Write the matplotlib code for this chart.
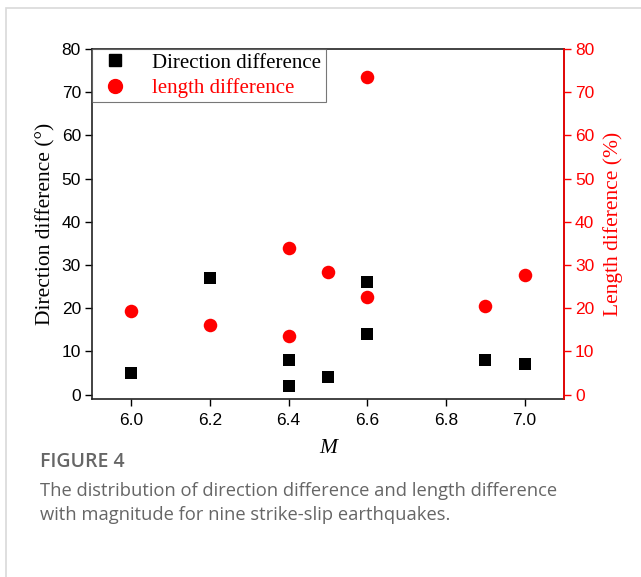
import matplotlib
matplotlib.use('Agg')
import matplotlib.pyplot as plt
from matplotlib.lines import Line2D
from matplotlib.patches import Rectangle

# Daten
magnitude = [6.0, 6.2, 6.4, 6.4, 6.5, 6.6, 6.6, 6.9, 7.0]
richtung_diff = [5, 27, 8, 2, 4, 26, 14, 8, 7]
laengen_mag = [6.0, 6.2, 6.4, 6.4, 6.5, 6.6, 6.6, 6.9, 7.0]
laengen_diff = [19.4, 16.2, 34.0, 13.5, 28.3, 73.5, 22.7, 20.6, 27.6]
x_ticks = [6.0, 6.2, 6.4, 6.6, 6.8, 7.0]
y_ticks = [0, 10, 20, 30, 40, 50, 60, 70, 80]

serif = ['Liberation Serif', 'DejaVu Serif']
sans = ['Liberation Sans', 'DejaVu Sans']
red = '#ff0000'

fig = plt.figure(figsize=(6.41, 5.77), dpi=100)

# Rahmen um die Abbildung
fig.patches.append(Rectangle((6 / 641, -0.1), 1.2, 1 - 8 / 577 + 0.1,
                             transform=fig.transFigure, fill=False,
                             edgecolor='#d9d9d9', linewidth=1.2))

ax = fig.add_axes([92 / 641, 1 - 399 / 577, (564 - 92) / 641, (399 - 49) / 577])
ax2 = ax.twinx()

ax.scatter(magnitude, richtung_diff, marker='s', s=75, color='black',
           linewidths=0, zorder=3)
ax2.scatter(laengen_mag, laengen_diff, marker='o', s=95, color=red,
            linewidths=0, zorder=3)

ax.set_xlim(5.9, 7.1)
ax.set_ylim(-1, 80)
ax2.set_ylim(-1, 80)
ax.set_xticks(x_ticks)
ax.set_xticklabels([f'{v:.1f}' for v in x_ticks], family=sans, fontsize=12.5)
ax.set_yticks(y_ticks)
ax.set_yticklabels([str(v) for v in y_ticks], family=sans, fontsize=12.5)
ax2.set_yticks(y_ticks)
ax2.set_yticklabels([str(v) for v in y_ticks], family=sans, fontsize=12.5, color=red)

ax.tick_params(direction='out', length=5, width=1, colors='black', pad=3)
ax.tick_params(axis='y', right=False)
ax.tick_params(axis='x', top=False, pad=5)
ax2.tick_params(axis='y', direction='out', length=5, width=1, colors=red, pad=3)

for sp in ax.spines.values():
    sp.set_color('#222222')
    sp.set_linewidth(1.2)
ax2.spines['right'].set_color(red)
ax2.spines['right'].set_linewidth(1.2)
for s in ['left', 'top', 'bottom']:
    ax2.spines[s].set_visible(False)

ax.set_xlabel('M', family=serif, style='italic', fontsize=15.5, labelpad=8)
ax.set_ylabel('Direction difference (°)', family=serif, fontsize=15.5, labelpad=4)
ax2.set_ylabel('Length diference (%)', family=serif, fontsize=15.5, color=red, labelpad=6)

handles = [
    Line2D([], [], marker='s', color='black', linestyle='none', markersize=8.5),
    Line2D([], [], marker='o', color=red, linestyle='none', markersize=10),
]
leg = ax.legend(handles, ['Direction difference', 'length difference'],
                loc='upper left', bbox_to_anchor=(0, 1), borderaxespad=0,
                prop={'family': serif, 'size': 15}, frameon=True, fancybox=False,
                handletextpad=0.9, borderpad=0.2, labelspacing=0.25,
                handlelength=1.8)
leg.get_frame().set_edgecolor('#555555')
leg.get_frame().set_linewidth(0.8)
leg.texts[1].set_color(red)

# Bildunterschrift
fig.text(40 / 641, 1 - 462 / 577, 'FIGURE 4', family=['Open Sans', 'DejaVu Sans'],
         fontsize=14, color='#666666', va='center', fontweight='semibold')
fig.text(40 / 641, 1 - 491 / 577,
         'The distribution of direction difference and length difference',
         family=['Open Sans', 'DejaVu Sans'], fontsize=13.2, color='#666666', va='center')
fig.text(40 / 641, 1 - 515 / 577,
         'with magnitude for nine strike-slip earthquakes.',
         family=['Open Sans', 'DejaVu Sans'], fontsize=13.2, color='#666666', va='center')

plt.savefig('out.png', dpi=100)
plt.close()
